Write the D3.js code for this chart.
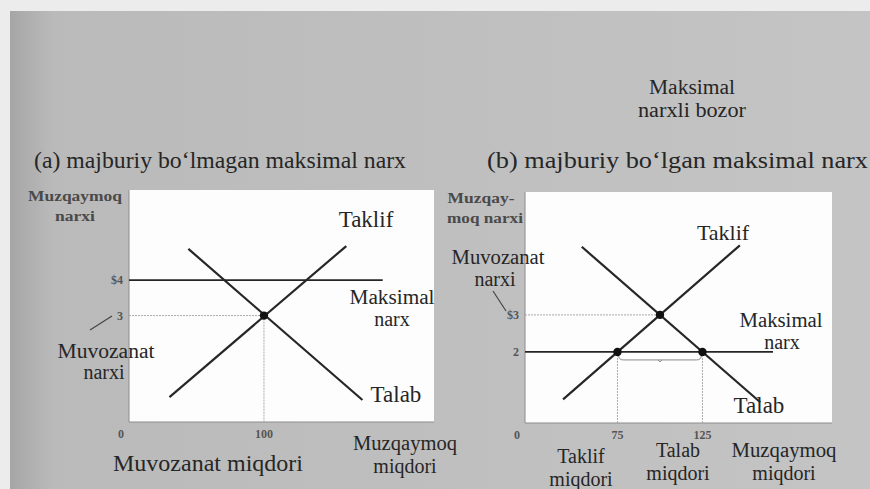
<!DOCTYPE html>
<html>
<head>
<meta charset="utf-8">
<script src="https://cdn.jsdelivr.net/npm/d3@7"></script>
<style>
  body { margin: 0; background: #efefef; }
  svg { display: block; font-family: "Liberation Serif", "Times New Roman", serif; }
</style>
</head>
<body>
<div id="chart"></div>
<script>
// supply / demand lines as [quantity, price] end points
const supplyA = [[30, 0.7], [161, 4.96]];
const demandA = [[44, 4.88], [173, 0.62]];
const ceilingA = 4;
const equilibriumA = [100, 3];

const supplyB = [[43, 0.72], [147, 4.88]];
const demandB = [[54, 4.84], [159, 0.64]];
const ceilingB = 2;
const equilibriumB = [100, 3];
const shortageB = [75, 125];

const ticksA_x = [100];
const ticksA_y = [{v: 4, t: '$4'}, {v: 3, t: '3'}];
const ticksB_x = [75, 125];
const ticksB_y = [{v: 3, t: '$3'}, {v: 2, t: '2'}];

const W = 870, H = 489;
const svg = d3.select('#chart').append('svg').attr('width', W).attr('height', H);

// scanned page background
const grad = svg.append('defs').append('linearGradient').attr('id', 'bg');
grad.append('stop').attr('offset', '0%').attr('stop-color', '#a6a6a6');
grad.append('stop').attr('offset', '5%').attr('stop-color', '#bababa');
grad.append('stop').attr('offset', '100%').attr('stop-color', '#c4c4c4');
svg.append('rect').attr('width', W).attr('height', H).attr('fill', '#ececec');
svg.append('rect').attr('x', 10).attr('y', 11).attr('width', W - 10).attr('height', H - 11).attr('fill', 'url(#bg)');

const ink = '#262626';

function text(x, y, str, size, anchor, extra) {
  const t = svg.append('text')
    .attr('x', x).attr('y', y)
    .attr('font-size', size)
    .attr('text-anchor', anchor || 'middle')
    .attr('fill', ink)
    .text(str);
  if (extra) extra(t);
  return t;
}
const fit = len => t => t.attr('textLength', len).attr('lengthAdjust', 'spacingAndGlyphs');

// headings
text(692, 94, 'Maksimal', 20, 'middle', fit(86));
text(692, 117, 'narxli bozor', 20, 'middle', fit(108));
text(34, 168, '(a) majburiy bo\u2018lmagan maksimal narx', 24, 'start', fit(372));
text(487, 168, '(b) majburiy bo\u2018lgan maksimal narx', 24, 'start', fit(381));

function panel(box, xDom, yDom, cfg) {
  const x = d3.scaleLinear().domain(xDom).range([box.x0, box.x1]);
  const y = d3.scaleLinear().domain(yDom).range([box.y1, box.y0]);
  const g = svg.append('g');
  g.append('rect').attr('x', box.x0).attr('y', box.y0)
    .attr('width', box.x1 - box.x0).attr('height', box.y1 - box.y0)
    .attr('fill', '#fdfdfd');
  g.append('path').attr('fill', 'none').attr('stroke', '#8c8c8c').attr('stroke-width', 1)
    .attr('d', `M${box.x0},${box.y0}V${box.y1}H${box.x1}`);

  const line = d3.line().x(d => x(d[0])).y(d => y(d[1]));
  const [eq, eqP] = cfg.eq;

  // dotted guides
  const guides = [[[xDom[0], eqP], [eq, eqP]]];
  if (cfg.shortage) cfg.shortage.forEach(q => guides.push([[q, cfg.ceiling], [q, yDom[0]]]));
  else guides.push([[eq, eqP], [eq, yDom[0]]]);
  g.selectAll('path.guide').data(guides).enter().append('path')
    .attr('class', 'guide').attr('fill', 'none')
    .attr('stroke', '#a0a0a0').attr('stroke-width', 0.9).attr('stroke-dasharray', '2,1')
    .attr('d', line);

  // price ceiling
  g.append('path').attr('fill', 'none').attr('stroke', ink).attr('stroke-width', 1.8)
    .attr('d', line([[xDom[0], cfg.ceiling], [cfg.ceilingEnd, cfg.ceiling]]));

  // curves
  g.selectAll('path.curve').data([cfg.supply, cfg.demand]).enter().append('path')
    .attr('class', 'curve').attr('fill', 'none').attr('stroke', ink).attr('stroke-width', 2.2)
    .attr('d', line);

  // shortage brace
  if (cfg.shortage) {
    const [q1, q2] = cfg.shortage;
    const by = y(cfg.ceiling) + 8;
    g.append('path').attr('fill', 'none').attr('stroke', '#8a8a8a').attr('stroke-width', 1)
      .attr('d', `M${x(q1) + 1},${by - 5}Q${x(q1) + 1},${by} ${x(q1) + 6},${by}H${x(q2) - 6}Q${x(q2) - 1},${by} ${x(q2) - 1},${by - 5}`);
    g.append('path').attr('fill', 'none').attr('stroke', '#8a8a8a').attr('stroke-width', 1)
      .attr('d', `M${x((q1 + q2) / 2) - 2},${by}l2,2l2,-2`);
  }

  // points
  const pts = [cfg.eq].concat(cfg.shortage ? cfg.shortage.map(q => [q, cfg.ceiling]) : []);
  g.selectAll('circle').data(pts).enter().append('circle')
    .attr('cx', d => x(d[0])).attr('cy', d => y(d[1])).attr('r', 4.2).attr('fill', '#111');

  // tick labels
  const tick = sel => sel.attr('font-size', 12).attr('font-weight', 'bold').attr('fill', '#555');
  g.selectAll('text.yt').data(cfg.yTicks).enter().append('text')
    .attr('class', 'yt').attr('x', box.x0 - 6).attr('y', d => y(d.v) + 4)
    .attr('text-anchor', 'end').call(tick)
    .text(d => d.t);
  g.selectAll('text.xt').data(cfg.xTicks).enter().append('text')
    .attr('class', 'xt').attr('x', d => x(d)).attr('y', box.y1 + 16)
    .attr('text-anchor', 'middle').call(tick)
    .text(d => d);
  g.append('text').attr('x', box.x0 - 8).attr('y', box.y1 + 16)
    .attr('text-anchor', 'middle').call(tick)
    .text('0');
  return {x, y};
}

// panel (a)
panel({x0: 129, x1: 434, y0: 190, y1: 422}, [0, 226], [0, 6.54], {
  supply: supplyA, demand: demandA, ceiling: ceilingA, ceilingEnd: 188,
  eq: equilibriumA, xTicks: ticksA_x, yTicks: ticksA_y
});
// panel (b)
panel({x0: 525, x1: 832, y0: 192, y1: 423}, [20.6, 201.2], [0.08, 6.32], {
  supply: supplyB, demand: demandB, ceiling: ceilingB, ceilingEnd: 166.5,
  eq: equilibriumB, shortage: shortageB, xTicks: ticksB_x, yTicks: ticksB_y
});

// panel (a) labels
const small = len => t => t.attr('font-weight', 'bold').attr('fill', '#4a4a4a')
  .attr('textLength', len).attr('lengthAdjust', 'spacingAndGlyphs');
text(75, 201, 'Muzqaymoq', 15, 'middle', small(94));
text(75, 221, 'narxi', 15, 'middle', small(40));
svg.append('path').attr('d', 'M90,330L112,316').attr('stroke', '#444').attr('stroke-width', 1.2);
text(106, 358, 'Muvozanat', 20, 'middle', fit(97));
text(104, 379, 'narxi', 20);
text(366, 227, 'Taklif', 23);
text(392, 304, 'Maksimal', 20, 'middle', fit(85));
text(392, 326, 'narx', 20);
text(396, 402, 'Talab', 23);
text(405, 450, 'Muzqaymoq', 20, 'middle', fit(104));
text(405, 473, 'miqdori', 20);
text(208, 471, 'Muvozanat miqdori', 24);

// panel (b) labels
text(481, 203, 'Muzqay-', 15, 'middle', small(67));
text(485, 223, 'moq narxi', 15, 'middle', small(76));
text(498, 264, 'Muvozanat', 20, 'middle', fit(93));
text(495, 286, 'narxi', 20);
svg.append('path').attr('d', 'M493,291L506,311').attr('stroke', '#444').attr('stroke-width', 1.2);
text(723, 240, 'Taklif', 22);
text(781, 327, 'Maksimal', 20, 'middle', fit(83));
text(782, 349, 'narx', 20);
text(759, 413, 'Talab', 23);
text(581, 463, 'Taklif', 20);
text(581, 486, 'miqdori', 20);
text(678, 457, 'Talab', 20);
text(678, 480, 'miqdori', 20);
text(784, 457, 'Muzqaymoq', 20, 'middle', fit(105));
text(784, 480, 'miqdori', 20);
</script>
</body>
</html>
